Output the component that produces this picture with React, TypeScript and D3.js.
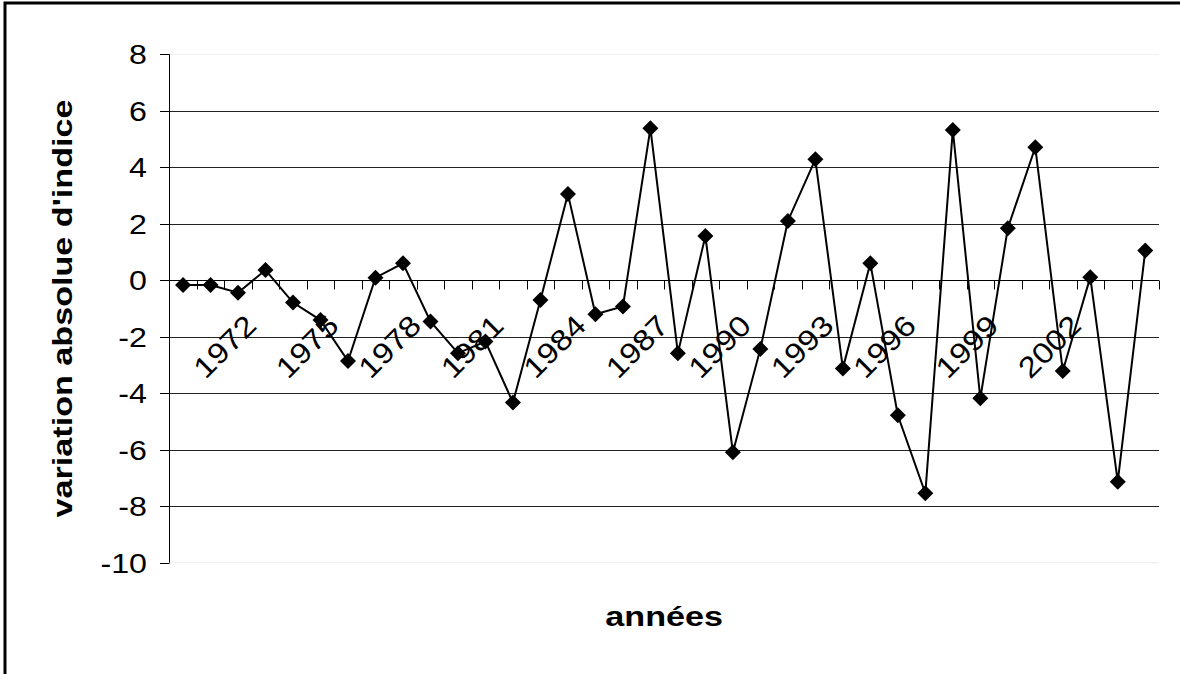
import { useEffect, useRef } from 'react';
import * as d3 from 'd3';

// one value per year
const years = d3.range(1970, 2006).map(String);
const values = [
    -0.17, -0.17, -0.44, 0.36, -0.79, -1.41, -2.86, 0.09, 0.6, -1.46,
    -2.58, -2.17, -4.33, -0.7, 3.05, -1.2, -0.93, 5.38, -2.58, 1.57,
    -6.09, -2.43, 2.1, 4.28, -3.12, 0.6, -4.78, -7.54, 5.32, -4.18,
    1.84, 4.71, -3.21, 0.11, -7.13, 1.05,
];
const yTicks = [8, 6, 4, 2, 0, -2, -4, -6, -8, -10];
const labelYears = ['1972', '1975', '1978', '1981', '1984', '1987', '1990', '1993', '1996', '1999', '2002'];

const yTitle = "variation absolue d'indice";
const xTitle = 'années';

const W = 1180;
const H = 674;
const FONT = '"Liberation Sans", Arial, sans-serif';
const STRETCH = 1.22;

export default function App() {
    const ref = useRef(null);

    useEffect(() => {
        const svg = d3.select(ref.current);
        svg.selectAll('*').remove();

        const x = d3.scaleBand().domain(years).range([169.3, 1159]);
        const y = d3.scaleLinear().domain([-10, 8]).range([562.7, 54.3]);
        const cx = (yr) => x(yr) + x.bandwidth() / 2;

        // outer frame
        svg.append('rect')
            .attr('x', 5).attr('y', 3)
            .attr('width', 1210).attr('height', 710)
            .attr('fill', 'white')
            .attr('stroke', 'black')
            .attr('stroke-width', 3);

        // faint plot area edges
        [8, -10].forEach((v) => {
            svg.append('line')
                .attr('x1', 169.3).attr('x2', 1159)
                .attr('y1', y(v)).attr('y2', y(v))
                .attr('stroke', '#eeeeee');
        });

        // gridlines
        svg.append('g')
            .selectAll('line')
            .data(yTicks.filter((v) => v !== 8 && v !== -10 && v !== 0))
            .join('line')
            .attr('x1', 169.3).attr('x2', 1159)
            .attr('y1', (d) => Math.round(y(d)) + 0.5)
            .attr('y2', (d) => Math.round(y(d)) + 0.5)
            .attr('stroke', '#222')
            .attr('stroke-width', 1);

        // y axis
        const yAxis = svg.append('g');
        yAxis.append('line')
            .attr('x1', 169.5).attr('x2', 169.5)
            .attr('y1', y(8)).attr('y2', y(-10))
            .attr('stroke', 'black');
        yAxis.selectAll('line.tick')
            .data(yTicks)
            .join('line')
            .attr('class', 'tick')
            .attr('x1', 160).attr('x2', 169.5)
            .attr('y1', (d) => Math.round(y(d)) + 0.5)
            .attr('y2', (d) => Math.round(y(d)) + 0.5)
            .attr('stroke', 'black');
        yAxis.selectAll('text')
            .data(yTicks)
            .join('text')
            .attr('transform', (d) => `translate(147, ${y(d) + 10}) scale(1.15,1)`)
            .attr('text-anchor', 'end')
            .attr('font-family', FONT)
            .attr('font-size', 28)
            .attr('fill', 'black')
            .text((d) => d);

        // x axis at zero
        const y0 = Math.round(y(0)) + 0.5;
        const xAxis = svg.append('g');
        xAxis.append('line')
            .attr('x1', 169.3).attr('x2', 1159)
            .attr('y1', y0).attr('y2', y0)
            .attr('stroke', 'black');
        xAxis.selectAll('line.tick')
            .data(d3.range(years.length + 1))
            .join('line')
            .attr('class', 'tick')
            .attr('x1', (i) => Math.round(169.3 + i * x.step()) + 0.5)
            .attr('x2', (i) => Math.round(169.3 + i * x.step()) + 0.5)
            .attr('y1', y0).attr('y2', y0 + 9)
            .attr('stroke', 'black');

        // line + diamonds
        const line = d3.line()
            .x((d, i) => cx(years[i]))
            .y((d) => y(d));
        svg.append('path')
            .datum(values)
            .attr('d', line)
            .attr('fill', 'none')
            .attr('stroke', 'black')
            .attr('stroke-width', 2);

        const diamond = d3.symbol(d3.symbolSquare, 128);
        svg.append('g')
            .selectAll('path')
            .data(values)
            .join('path')
            .attr('d', diamond)
            .attr('transform', (d, i) => `translate(${cx(years[i])}, ${y(d)}) rotate(45)`)
            .attr('fill', 'black');

        // rotated year labels (drawn over the plot)
        svg.append('g')
            .selectAll('text')
            .data(labelYears)
            .join('text')
            .attr('transform', (d) => `translate(${cx(d) + 20}, ${y0 + 47}) rotate(-45) scale(1.15,1)`)
            .attr('text-anchor', 'end')
            .attr('font-family', FONT)
            .attr('font-size', 29)
            .attr('fill', 'black')
            .text((d) => d);

        // titles
        svg.append('text')
            .attr('transform', `translate(72, ${(y(8) + y(-10)) / 2}) rotate(-90) scale(${STRETCH},1)`)
            .attr('text-anchor', 'middle')
            .attr('font-family', FONT)
            .attr('font-weight', 'bold')
            .attr('font-size', 28)
            .attr('fill', 'black')
            .text(yTitle);

        svg.append('text')
            .attr('transform', `translate(${(169.3 + 1159) / 2}, 626) scale(${STRETCH},1)`)
            .attr('text-anchor', 'middle')
            .attr('font-family', FONT)
            .attr('font-weight', 'bold')
            .attr('font-size', 28)
            .attr('fill', 'black')
            .text(xTitle);
    }, []);

    return (
        <svg
            ref={ref}
            width={W}
            height={H}
            style={{ position: 'fixed', left: 0, top: 0, display: 'block', background: 'white' }}
        />
    );
}
